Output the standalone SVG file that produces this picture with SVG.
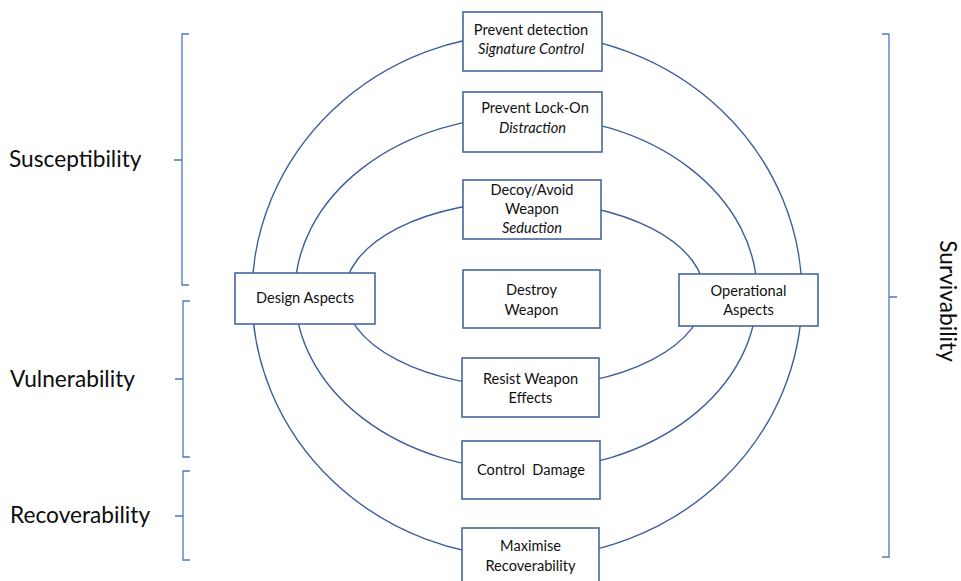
<svg xmlns="http://www.w3.org/2000/svg" width="961" height="581" viewBox="0 0 961 581">
  <style>
    .ring { fill: none; stroke: #3d5e9b; stroke-width: 1.4; }
    .box { fill: #ffffff; stroke: #45679f; stroke-width: 1.6; }
    .t { font-family: Lato, "Open Sans", "Liberation Sans", sans-serif; font-size: 14.6px; fill: #111111; text-anchor: middle; }
    .i { font-style: italic; }
    .lbl { font-family: Lato, "Open Sans", "Liberation Sans", sans-serif; font-size: 22.7px; fill: #0d0d0d; }
    .brace { fill: none; stroke: #4a78c8; stroke-width: 1.3; }
  </style>

  <!-- concentric rings linking the layers -->
  <g id="connectors">
    <ellipse class="ring" cx="527" cy="295.5" rx="275" ry="262"/>
    <ellipse class="ring" cx="526" cy="293" rx="231" ry="177"/>
    <ellipse class="ring" cx="524.5" cy="294.2" rx="180" ry="93"/>
  </g>

  <g id="prevent-detection">
    <rect class="box" x="463" y="12" width="139" height="59"/>
    <text class="t" x="531" y="35">Prevent detection</text>
    <text class="t i" x="531" y="54">Signature Control</text>
  </g>

  <g id="prevent-lock-on">
    <rect class="box" x="463" y="92" width="139" height="60"/>
    <text class="t" x="535" y="113">Prevent Lock-On</text>
    <text class="t i" x="532.5" y="133">Distraction</text>
  </g>

  <g id="decoy-avoid">
    <rect class="box" x="463" y="180" width="138" height="59"/>
    <text class="t" x="532" y="195">Decoy/Avoid</text>
    <text class="t" x="532" y="214">Weapon</text>
    <text class="t i" x="532" y="233">Seduction</text>
  </g>

  <g id="destroy-weapon">
    <rect class="box" x="463" y="270" width="137" height="58"/>
    <text class="t" x="531.5" y="295">Destroy</text>
    <text class="t" x="531.5" y="315">Weapon</text>
  </g>

  <g id="resist-effects">
    <rect class="box" x="462" y="358" width="137" height="59"/>
    <text class="t" x="530.5" y="384">Resist Weapon</text>
    <text class="t" x="530.5" y="403">Effects</text>
  </g>

  <g id="control-damage">
    <rect class="box" x="462" y="441" width="138" height="58"/>
    <text class="t" x="531" y="475" xml:space="preserve">Control  Damage</text>
  </g>

  <g id="maximise-recoverability">
    <rect class="box" x="462" y="528" width="137" height="60"/>
    <text class="t" x="530.5" y="551">Maximise</text>
    <text class="t" x="530.5" y="571">Recoverability</text>
  </g>

  <g id="design-aspects">
    <rect class="box" x="235" y="273" width="140" height="51"/>
    <text class="t" x="305" y="303">Design Aspects</text>
  </g>

  <g id="operational-aspects">
    <rect class="box" x="679" y="274" width="139" height="52"/>
    <text class="t" x="748.5" y="296">Operational</text>
    <text class="t" x="748.5" y="315">Aspects</text>
  </g>

  <!-- grouping braces and their labels -->
  <g id="susceptibility">
    <path class="brace" d="M189,34 H182 V285 H189 M182,160 H174"/>
    <text class="lbl" x="9" y="167">Susceptibility</text>
  </g>

  <g id="vulnerability">
    <path class="brace" d="M190,301 H183 V457 H190 M183,379 H175"/>
    <text class="lbl" x="10" y="387">Vulnerability</text>
  </g>

  <g id="recoverability">
    <path class="brace" d="M190,471 H183 V560 H190 M183,516 H175"/>
    <text class="lbl" x="10" y="523">Recoverability</text>
  </g>

  <g id="survivability">
    <path class="brace" d="M882,34 H889 V557 H882 M889,297 H897"/>
    <text class="lbl" text-anchor="middle" transform="translate(940,301) rotate(90)">Survivability</text>
  </g>
</svg>
